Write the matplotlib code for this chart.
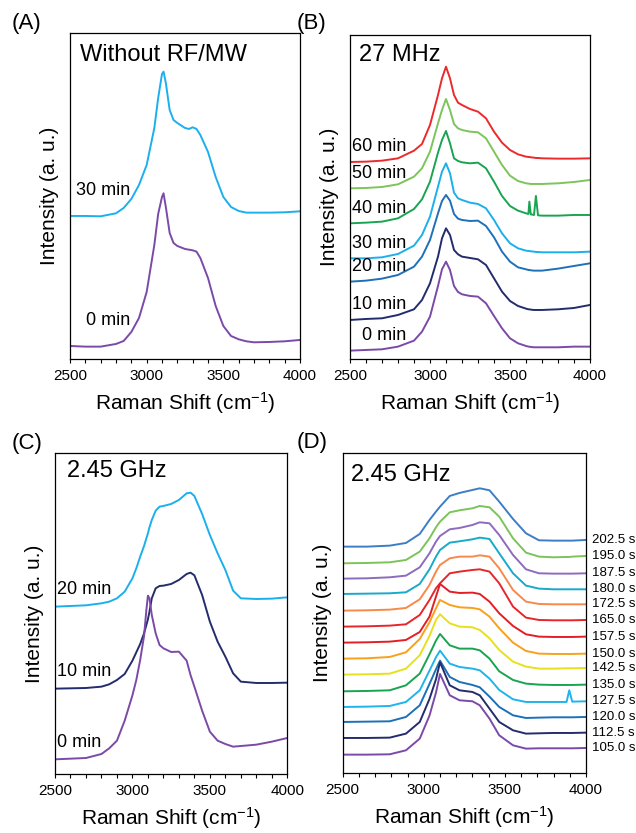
import matplotlib
matplotlib.use("Agg")
import matplotlib.pyplot as plt
from matplotlib.ticker import MultipleLocator

plt.rcParams['font.family'] = ['Liberation Sans', 'DejaVu Sans']
plt.rcParams['mathtext.fontset'] = 'custom'
plt.rcParams['mathtext.rm'] = 'Liberation Sans'
plt.rcParams['mathtext.it'] = 'Liberation Sans:italic'
plt.rcParams['mathtext.bf'] = 'Liberation Sans:bold'

# ---------------- (A) without RF/MW ----------------
A_SHIFT = [2500, 2600, 2700, 2800, 2850, 2900, 2950, 3000, 3050, 3075, 3100, 3110,
           3125, 3150, 3175, 3200, 3250, 3275, 3300, 3325, 3350, 3400, 3450, 3500,
           3550, 3600, 3650, 3700, 3800, 3900, 4000]
A_30MIN = [430, 430, 429, 438, 454, 481, 523, 583, 694, 784, 856, 863, 829, 748, 718,
           709, 694, 691, 696, 691, 673, 622, 547, 487, 457, 445, 440, 440, 440, 441, 444]
A_0MIN = [40, 38, 38, 46, 55, 82, 124, 202, 343, 436, 487, 498, 457, 379, 349, 340,
          331, 329, 327, 323, 304, 244, 160, 100, 70, 60, 54, 51, 52, 54, 58]
A_LABELS = ["30 min", "0 min"]

# ---------------- (B) 27 MHz ----------------
B_SHIFT = [2500, 2600, 2700, 2800, 2900, 2950, 3000, 3050, 3075, 3100, 3125, 3150,
           3175, 3200, 3250, 3300, 3350, 3400, 3450, 3500, 3550, 3600, 3615, 3621,
           3630, 3650, 3662, 3675, 3700, 3800, 3900, 4000]
B_60MIN = [592, 593, 596, 603, 626, 646, 703, 793, 843, 878, 843, 793, 770, 763, 751,
           743, 723, 683, 650, 628, 615, 608, 607, 607, 606, 605, 604, 604, 603, 602, 602, 603]
B_50MIN = [513, 514, 517, 525, 548, 573, 623, 708, 748, 781, 748, 706, 693, 688, 683,
           681, 663, 623, 583, 551, 535, 528, 527, 527, 526, 526, 526, 526, 526, 528, 532, 538]
B_40MIN = [408, 410, 413, 423, 451, 480, 533, 620, 658, 685, 648, 603, 595, 591, 588,
           590, 573, 533, 490, 460, 446, 438, 436, 473, 435, 433, 490, 432, 431, 431, 433, 433]
B_30MIN = [303, 303, 306, 316, 341, 373, 428, 518, 563, 588, 558, 500, 483, 478, 470,
           466, 453, 418, 378, 348, 333, 326, 325, 325, 324, 323, 322, 322, 321, 321, 321, 323]
B_20MIN = [233, 236, 242, 253, 278, 308, 358, 438, 475, 493, 476, 436, 422, 418, 415,
           416, 400, 366, 323, 293, 276, 270, 268, 268, 267, 266, 266, 266, 266, 272, 280, 288]
B_10MIN = [118, 121, 123, 133, 150, 178, 228, 308, 363, 393, 373, 328, 315, 308, 304,
           300, 283, 243, 203, 175, 160, 152, 150, 150, 149, 148, 148, 148, 148, 150, 154, 163]
B_0MIN = [26, 28, 30, 38, 56, 83, 128, 220, 270, 293, 268, 220, 202, 195, 190, 188,
          168, 130, 93, 63, 48, 40, 38, 38, 37, 36, 36, 36, 36, 36, 38, 38]
B_LABELS = ["60 min", "50 min", "40 min", "30 min", "20 min", "10 min", "0 min"]

# ---------------- (C) 2.45 GHz, minutes ----------------
C_SHIFT = [2500, 2600, 2700, 2800, 2850, 2900, 2950, 3000, 3025, 3050, 3075, 3090,
           3100, 3110, 3125, 3150, 3175, 3200, 3250, 3300, 3350, 3375, 3400, 3450,
           3500, 3550, 3600, 3650, 3700, 3800, 3900, 4000]
C_20MIN = [502, 504, 506, 512, 517, 527, 547, 587, 617, 652, 684, 707, 722, 740, 762,
           790, 802, 804, 810, 822, 842, 844, 834, 780, 717, 662, 612, 550, 527, 525, 526, 530]
C_10MIN = [256, 257, 258, 262, 269, 282, 300, 340, 365, 390, 422, 447, 464, 487, 527,
           557, 564, 565, 570, 582, 600, 604, 596, 537, 457, 397, 352, 302, 277, 273, 273, 274]
C_0MIN = [44, 46, 48, 60, 77, 100, 160, 236, 282, 342, 414, 492, 535, 527, 477, 422,
          387, 377, 366, 367, 340, 297, 262, 190, 127, 100, 90, 82, 84, 88, 97, 108]
C_LABELS = ["20 min", "10 min", "0 min"]

# ---------------- (D) 2.45 GHz, seconds ----------------
D_SHIFT = [2500, 2650, 2790, 2890, 2975, 3035, 3075, 3100, 3160, 3220, 3300, 3345,
           3405, 3465, 3550, 3630, 3710, 3800, 3880, 3897, 3915, 4000]
D_202_5 = [680, 680, 683, 691, 718, 760, 785, 800, 832, 841, 850, 855, 849, 815, 763, 720, 699, 698, 698, 698, 698, 700]
D_195_0 = [630, 631, 633, 640, 665, 705, 738, 755, 783, 789, 795, 802, 798, 770, 705, 662, 650, 648, 649, 649, 650, 652]
D_187_5 = [584, 585, 588, 593, 618, 660, 695, 712, 732, 736, 745, 753, 750, 715, 655, 612, 600, 599, 599, 599, 599, 600]
D_180_0 = [538, 539, 540, 543, 568, 612, 650, 670, 692, 696, 702, 707, 703, 660, 600, 563, 554, 552, 552, 552, 552, 552]
D_172_5 = [488, 489, 491, 496, 522, 565, 605, 625, 645, 650, 650, 654, 650, 615, 550, 515, 508, 507, 507, 507, 507, 507]
D_165_0 = [440, 441, 443, 447, 475, 520, 555, 570, 600, 605, 610, 612, 605, 570, 500, 467, 460, 459, 459, 459, 459, 460]
D_157_5 = [392, 393, 395, 400, 424, 470, 530, 568, 545, 541, 542, 538, 515, 480, 442, 417, 410, 409, 409, 409, 409, 410]
D_150_0 = [344, 345, 349, 363, 403, 453, 495, 520, 505, 498, 496, 492, 470, 435, 392, 367, 359, 358, 358, 358, 358, 359]
D_142_5 = [296, 297, 299, 314, 354, 412, 460, 477, 450, 440, 438, 430, 405, 370, 335, 320, 314, 314, 315, 315, 315, 316]
D_135_0 = [246, 247, 249, 264, 299, 357, 398, 418, 384, 374, 374, 369, 344, 306, 280, 269, 266, 265, 265, 265, 265, 266]
D_127_5 = [199, 200, 202, 214, 249, 308, 348, 368, 329, 319, 314, 309, 284, 250, 222, 214, 214, 214, 214, 249, 215, 216]
D_120_0 = [154, 155, 156, 169, 204, 268, 312, 338, 289, 274, 265, 258, 230, 199, 174, 166, 167, 168, 168, 168, 168, 169]
D_112_5 = [106, 106, 107, 119, 154, 223, 282, 333, 264, 249, 244, 234, 194, 154, 129, 119, 120, 121, 121, 121, 121, 122]
D_105_0 = [56, 56, 57, 69, 104, 173, 242, 298, 234, 219, 216, 204, 164, 114, 84, 74, 75, 75, 75, 75, 75, 76]
D_LABELS = ["202.5 s", "195.0 s", "187.5 s", "180.0 s", "172.5 s", "165.0 s", "157.5 s",
            "150.0 s", "142.5 s", "135.0 s", "127.5 s", "120.0 s", "112.5 s", "105.0 s"]

PURPLE = "#7b4aa8"
NAVY = "#232c6d"
BLUE = "#1f70b8"
SKY = "#1bb0ec"
GREEN = "#1aa451"
LGREEN = "#7dc45a"
RED = "#ec2a2b"

D_COLORS = ["#3c7ec6", "#7cc35a", "#8d6bbf", "#19a9c9", "#f68a4b", "#e8262a", "#e31e24",
            "#f7a11c", "#e6e11c", "#19a44f", "#1fb4ec", "#1c70b9", "#232c6d", "#7b4aa8"]

LW = 1.4
LABEL_FS = 13
TITLE_FS = 17
AXIS_FS = 15
TICK_FS = 11

fig = plt.figure(figsize=(6.36, 8.33), dpi=100)
W, H = 636.0, 833.0


def panel(left, top, right, bottom, ymax):
    ax = fig.add_axes([left / W, 1 - bottom / H, (right - left) / W, (bottom - top) / H])
    ax.set_xlim(2500, 4000)
    ax.set_ylim(0, ymax)
    ax.set_yticks([])
    ax.xaxis.set_major_locator(MultipleLocator(500))
    ax.xaxis.set_minor_locator(MultipleLocator(100))
    ax.tick_params(axis='x', which='major', direction='out', length=3, width=0.8,
                   labelsize=TICK_FS, pad=4)
    ax.tick_params(axis='x', which='minor', direction='out', length=3, width=0.8)
    for s in ax.spines.values():
        s.set_linewidth(0.9)
    ax.set_xlabel(r"Raman Shift (cm$^{-1}$)", fontsize=AXIS_FS, labelpad=5)
    ax.set_ylabel("Intensity (a. u.)", fontsize=AXIS_FS, labelpad=8)
    return ax


def title(ax, text, dx, dy):
    ax.annotate(text, xy=(0, 1), xycoords='axes fraction', xytext=(dx * 0.72, -dy * 0.72),
                textcoords='offset points', ha='left', va='center', fontsize=TITLE_FS)


# (A)
axA = panel(70, 33.3, 300, 359.3, 978)
for y, c, lab in zip([A_30MIN, A_0MIN], [SKY, PURPLE], A_LABELS):
    axA.plot(A_SHIFT, y, color=c, lw=LW)
    axA.text(2890, y[0] + 77, lab, ha='right', va='center', fontsize=LABEL_FS)
title(axA, "Without RF/MW", 10, 22)

# (B)
axB = panel(350, 35, 590, 359.3, 973)
B_SERIES = [B_60MIN, B_50MIN, B_40MIN, B_30MIN, B_20MIN, B_10MIN, B_0MIN]
B_COLORS = [RED, LGREEN, GREEN, SKY, BLUE, NAVY, PURPLE]
for y, c, lab in zip(B_SERIES, B_COLORS, B_LABELS):
    axB.plot(B_SHIFT, y, color=c, lw=LW)
    axB.text(2850, y[0] + 45, lab, ha='right', va='center', fontsize=LABEL_FS)
title(axB, "27 MHz", 9, 20)

# (C)
axC = panel(55, 453.3, 287.3, 774, 962)
for y, c, lab in zip([C_20MIN, C_10MIN, C_0MIN], [SKY, NAVY, PURPLE], C_LABELS):
    axC.plot(C_SHIFT, y, color=c, lw=LW)
    axC.text(2515, y[0] + 51, lab, ha='left', va='center', fontsize=LABEL_FS)
title(axC, "2.45 GHz", 12, 18)

# (D)
axD = panel(342.7, 453.3, 586, 773.3, 960)
D_SERIES = [D_202_5, D_195_0, D_187_5, D_180_0, D_172_5, D_165_0, D_157_5,
            D_150_0, D_142_5, D_135_0, D_127_5, D_120_0, D_112_5, D_105_0]
for y, c, lab in zip(D_SERIES, D_COLORS, D_LABELS):
    axD.plot(D_SHIFT, y, color=c, lw=LW)
    axD.annotate(lab, xy=(1, y[-1]), xycoords=('axes fraction', 'data'), xytext=(4, 0),
                 textcoords='offset points', ha='left', va='center', fontsize=9.5)
title(axD, "2.45 GHz", 8, 22)

# panel letters
for txt, x, y in [("(A)", 11.7, 23.3), ("(B)", 297, 23), ("(C)", 11.7, 443.3), ("(D)", 296.7, 443)]:
    fig.text(x / W, 1 - y / H, txt, ha='left', va='center', fontsize=16)

fig.savefig("out.png", dpi=100)
